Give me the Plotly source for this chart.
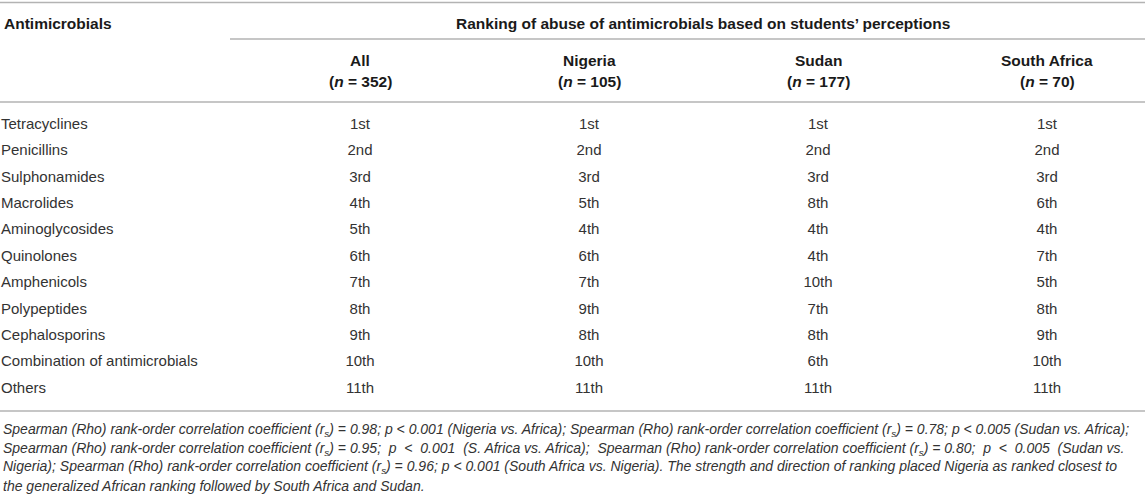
import plotly.graph_objects as go

# table data
antimicrobials = ["Tetracyclines", "Penicillins", "Sulphonamides", "Macrolides",
                  "Aminoglycosides", "Quinolones", "Amphenicols", "Polypeptides",
                  "Cephalosporins", "Combination of antimicrobials", "Others"]
rank_all = ["1st", "2nd", "3rd", "4th", "5th", "6th", "7th", "8th", "9th", "10th", "11th"]
rank_nigeria = ["1st", "2nd", "3rd", "5th", "4th", "6th", "7th", "9th", "8th", "10th", "11th"]
rank_sudan = ["1st", "2nd", "3rd", "8th", "4th", "4th", "10th", "7th", "8th", "6th", "11th"]
rank_south_africa = ["1st", "2nd", "3rd", "6th", "4th", "7th", "5th", "8th", "9th", "10th", "11th"]

group_names = ["All", "Nigeria", "Sudan", "South Africa"]
group_n = [352, 105, 177, 70]

footnote_lines = [
    "Spearman (Rho) rank-order correlation coefficient (r<sub>s</sub>) = 0.98; p < 0.001 (Nigeria vs. Africa); "
    "Spearman (Rho) rank-order correlation coefficient (r<sub>s</sub>) = 0.78; p < 0.005 (Sudan vs. Africa);",
    "Spearman (Rho) rank-order correlation coefficient (r<sub>s</sub>) = 0.95;  p  <  0.001  (S. Africa vs. Africa);  "
    "Spearman (Rho) rank-order correlation coefficient (r<sub>s</sub>) = 0.80;  p  <  0.005  (Sudan vs.",
    "Nigeria); Spearman (Rho) rank-order correlation coefficient (r<sub>s</sub>) = 0.96; p < 0.001 (South Africa vs. Nigeria). "
    "The strength and direction of ranking placed Nigeria as ranked closest to",
    "the generalized African ranking followed by South Africa and Sudan.",
]

W, H = 1145, 498
FONT = "Liberation Sans"
BODY = "#333333"
HEAD = "#1a1a1a"
RULE = "#b3b3b3"

col_x = [360, 589, 818, 1047]
row_top, row_h = 125, 26.4
rows_y = [row_top + i * row_h for i in range(len(antimicrobials))]

fig = go.Figure()

# first column, left aligned
fig.add_trace(go.Scatter(
    x=[1] * len(antimicrobials), y=rows_y, text=antimicrobials,
    mode="text", textposition="middle right",
    textfont=dict(family=FONT, size=15, color=BODY),
    hoverinfo="skip", showlegend=False,
))

for cx, ranks in zip(col_x, [rank_all, rank_nigeria, rank_sudan, rank_south_africa]):
    fig.add_trace(go.Scatter(
        x=[cx] * len(ranks), y=rows_y, text=ranks,
        mode="text", textposition="middle center",
        textfont=dict(family=FONT, size=15, color=BODY),
        hoverinfo="skip", showlegend=False,
    ))

annotations = [
    dict(x=2, y=23, text="<b>Antimicrobials</b>", xanchor="left"),
    dict(x=703, y=23, text="<b>Ranking of abuse of antimicrobials based on students\u2019 perceptions</b>",
         xanchor="center"),
]
for cx, name, n in zip(col_x, group_names, group_n):
    annotations.append(dict(x=cx, y=60, text=f"<b>{name}</b>", xanchor="center"))
    annotations.append(dict(x=cx, y=81, text=f"<b>(<i>n</i> = {n})</b>", xanchor="center"))
for a in annotations:
    a.update(xref="x", yref="y", yanchor="middle", showarrow=False,
             font=dict(family=FONT, size=15.5, color=HEAD))

for i, line in enumerate(footnote_lines):
    annotations.append(dict(
        x=1, y=430 + i * 18.5, text=f"<i>{line}</i>", xref="x", yref="y",
        xanchor="left", yanchor="middle", showarrow=False,
        font=dict(family=FONT, size=14, color=BODY),
    ))

# horizontal rules
rules = [(0, W, 2.5), (230, W, 39), (0, W, 102), (0, W, 411)]
shapes = [dict(type="line", xref="x", yref="y", x0=a, x1=b, y0=y, y1=y,
               line=dict(color=RULE, width=1.6)) for a, b, y in rules]

fig.update_layout(
    width=W, height=H,
    margin=dict(l=0, r=0, t=0, b=0),
    paper_bgcolor="white", plot_bgcolor="white",
    xaxis=dict(range=[0, W], visible=False, fixedrange=True),
    yaxis=dict(range=[H, 0], visible=False, fixedrange=True),
    annotations=annotations,
    shapes=shapes,
)

fig.write_html("out.html", config={"displayModeBar": False},
               post_script="document.body.style.margin='0';")
